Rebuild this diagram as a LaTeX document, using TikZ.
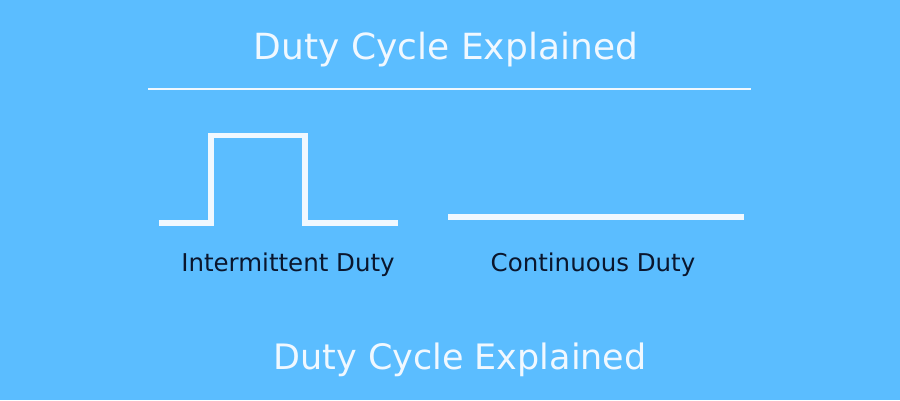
\documentclass[tikz,border=0pt]{standalone}
\usepackage{fontspec}
\setmainfont{DejaVu Sans}
\usepackage{xcolor}
\definecolor{skyblue}{RGB}{91,189,255}
\definecolor{offwhite}{RGB}{240,248,255}
\definecolor{navytext}{RGB}{10,22,45}

\begin{document}
\begin{tikzpicture}[x=1pt, y=-1pt]
    \tikzstyle{heading} = [text=offwhite, anchor=base, inner sep=0pt, font=\fontsize{35}{42}\selectfont]
    \tikzstyle{caption} = [text=navytext, anchor=base, inner sep=0pt, font=\fontsize{24.5}{29}\selectfont]
    \tikzstyle{signal} = [draw=offwhite, line width=5.8pt]
    
    % Background
    \fill [skyblue] (0,0) rectangle (900,400);
    \useasboundingbox (0,0) rectangle (900,400);
    
    % Title and rule
    \node [heading, font=\fontsize{36}{43}\selectfont] (title) at (446,59) {Duty Cycle Explained};
    \coordinate (rule_l) at (148,89);
    \coordinate (rule_r) at (751,89);
    \draw [offwhite, line width=2.2pt] (rule_l) -- (rule_r);
    
    % Intermittent signal
    \draw [signal] (159,223) -- (211,223) -- (211,135.5) -- (305,135.5) -- (305,223) -- (398,223);
    \node [caption] (intermittent) at (288,271) {Intermittent Duty};
    
    % Continuous signal
    \coordinate (cont_l) at (448,217);
    \coordinate (cont_r) at (744,217);
    \draw [signal] (cont_l) -- (cont_r);
    \node [caption] (continuous) at (593,271) {Continuous Duty};
    
    % Footer
    \node [heading] (footer) at (460,369) {Duty Cycle Explained};
\end{tikzpicture}
\end{document}
